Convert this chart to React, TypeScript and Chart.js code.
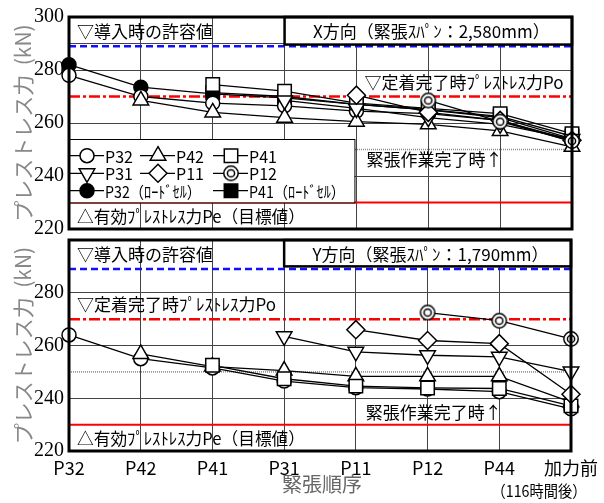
import React, { useEffect, useRef } from 'react';
import { Chart, registerables } from 'chart.js';
import { drawPoint } from 'chart.js/helpers';

Chart.register(...registerables);

// ---------- data ----------
const categories = ['P32', 'P42', 'P41', 'P31', 'P11', 'P12', 'P44', '加力前'];
const lastCategoryNote = '（116時間後）';
const seriesNames = ['P32', 'P42', 'P41', 'P31', 'P11', 'P12', 'P32（ﾛｰﾄﾞｾﾙ）', 'P41（ﾛｰﾄﾞｾﾙ）'];

// X direction (top panel)
const xP32 = [278, 270, 267.5, 266.5, 264.5, 263.5, 261, 253];
const xP42 = [null, 268.5, 264, 262, 260.5, 259.5, 257, 251];
const xP41 = [null, null, 274.5, 272, 267.5, 265.5, 263.5, 256];
const xP31 = [null, null, null, 268.5, 265.5, 262, 259.5, 254];
const xP11 = [null, null, null, null, 270.5, 264, 261, 253.5];
const xP12 = [null, null, null, null, null, 268.5, 260.5, 253.2];
const xP32LC = [282, 273.5, 271, 269.5, 267, 265, 262, 254];
const xP41LC = [null, null, 271.5, 270, 267, 265, 262.5, 255];

// Y direction (bottom panel)
const yP32 = [264, 255, 251.5, 246.5, 244, 243.5, 242.5, 236];
const yP42 = [null, 256.8, 252, 250.5, 248.3, 248.3, 248.3, 238.5];
const yP41 = [null, null, 252.5, 247.4, 244.6, 243.9, 243.7, 237.1];
const yP31 = [null, null, null, 263.5, 257.6, 256.3, 255.7, 250.1];
const yP11 = [null, null, null, null, 266, 261.9, 260.7, 241.5];
const yP12 = [null, null, null, null, null, 272.5, 269.4, 262.5];

// reference lines (kN)
const allowableAtIntroduction = 289;
const prestressPo = 270;
const completionLine = 250;
const prestressPe = 230;

const yMin = 220;
const yMax = 300;
const yTickLabelsTop = [220, 240, 260, 280, 300];
const yTickLabelsBottom = [220, 240, 260, 280];

const textIntro = '▽導入時の許容値';
const textPo = '▽定着完了時ﾌﾟﾚｽﾄﾚｽ力Po';
const textDone = '緊張作業完了時↑';
const textPe = '△有効ﾌﾟﾚｽﾄﾚｽ力Pe（目標値）';
const titleTop = 'X方向（緊張ｽﾊﾟﾝ：2,580mm）';
const titleBottom = 'Y方向（緊張ｽﾊﾟﾝ：1,790mm）';
const yAxisTitle = 'プレストレス力  (kN)';
const xAxisTitle = '緊張順序';

// ---------- styles ----------
const JP = '"Noto Sans CJK JP", "Noto Sans", sans-serif';

function makeDoubleCircle(): HTMLCanvasElement {
  const c = document.createElement('canvas');
  c.width = 18;
  c.height = 18;
  const g = c.getContext('2d')!;
  g.lineWidth = 1.5;
  g.strokeStyle = '#000';
  g.fillStyle = '#fff';
  g.beginPath();
  g.arc(9, 9, 7.2, 0, Math.PI * 2);
  g.fill();
  g.stroke();
  g.beginPath();
  g.arc(9, 9, 3.6, 0, Math.PI * 2);
  g.stroke();
  return c;
}

type Marker = { style: any; rot: number; r: number; fill: string; order: number };

function markerList(dbl: HTMLCanvasElement): Marker[] {
  return [
    { style: 'circle', rot: 0, r: 7, fill: '#fff', order: 5 },
    { style: 'triangle', rot: 0, r: 9, fill: '#fff', order: 4 },
    { style: 'rect', rot: 0, r: 9.5, fill: '#fff', order: 3 },
    { style: 'triangle', rot: 180, r: 9, fill: '#fff', order: 2 },
    { style: 'rectRot', rot: 0, r: 9, fill: '#fff', order: 1 },
    { style: dbl, rot: 0, r: 7, fill: '#fff', order: 0 },
    { style: 'circle', rot: 0, r: 7, fill: '#000', order: 7 },
    { style: 'rect', rot: 0, r: 9.5, fill: '#000', order: 6 },
  ];
}

type Panel = {
  series: (number | null)[][];
  title: string;
  tickLabels: number[];
  isBottom: boolean;
};

function makePlugin(panel: Panel, markers: Marker[]) {
  const text = (
    ctx: CanvasRenderingContext2D,
    s: string,
    x: number,
    y: number,
    align: CanvasTextAlign = 'left',
    size = 17,
    color = '#000',
    maxW?: number,
  ) => {
    ctx.font = `${size}px ${JP}`;
    ctx.fillStyle = color;
    ctx.textAlign = align;
    ctx.textBaseline = 'middle';
    if (maxW) ctx.fillText(s, x, y, maxW);
    else ctx.fillText(s, x, y);
  };
  return {
    id: 'panelDeco',
    beforeDatasetsDraw(chart: any) {
      const { ctx, chartArea: ca, scales } = chart;
      const y = scales.y;
      const lines = [
        { v: allowableAtIntroduction, color: '#1010ff', w: 2.5, dash: [7, 4] },
        { v: prestressPo, color: '#ff0000', w: 2.5, dash: [11, 3, 3, 3] },
        { v: completionLine, color: '#8a8a8a', w: 1.5, dash: [1, 1] },
        { v: prestressPe, color: '#ff0000', w: 2, dash: [] as number[] },
      ];
      ctx.save();
      for (const l of lines) {
        const py = y.getPixelForValue(l.v);
        ctx.beginPath();
        ctx.setLineDash(l.dash);
        ctx.strokeStyle = l.color;
        ctx.lineWidth = l.w;
        ctx.moveTo(ca.left, py);
        ctx.lineTo(ca.right, py);
        ctx.stroke();
      }
      ctx.restore();
    },
    afterDatasetsDraw(chart: any) {
      const { ctx, chartArea: ca, scales } = chart;
      const x = scales.x;
      const y = scales.y;
      ctx.save();
      // title box
      const bx = x.getPixelForValue(3);
      const by2 = y.getPixelForValue(panel.isBottom ? 290 : 289.6);
      ctx.fillStyle = '#fff';
      ctx.fillRect(bx, ca.top, ca.right - bx, by2 - ca.top);
      ctx.strokeStyle = '#000';
      ctx.lineWidth = 2.5;
      ctx.strokeRect(bx, ca.top, ca.right - bx, by2 - ca.top);
      text(ctx, panel.title, (bx + ca.right) / 2 + 3, (ca.top + by2) / 2 + 1, 'center', 17, '#000', 252);

      // annotation texts
      text(ctx, textIntro, ca.left + 8, y.getPixelForValue(294.4), 'left', 17, '#000', 141);
      if (panel.isBottom) {
        text(ctx, textPo, ca.left + 8, y.getPixelForValue(275.6), 'left', 17, '#000', 203);
        text(ctx, textDone, x.getPixelForValue(4) + 10, y.getPixelForValue(234.6), 'left', 17, '#000', 136);
      } else {
        text(ctx, textPo, x.getPixelForValue(4) + 8, y.getPixelForValue(275.3), 'left', 17, '#000', 203);
        text(ctx, textDone, x.getPixelForValue(4) + 10, y.getPixelForValue(246.3), 'left', 17, '#000', 136);
      }
      text(ctx, textPe, ca.left + 8, y.getPixelForValue(224.6), 'left', 17, '#000', 228);

      // legend (top panel only)
      if (!panel.isBottom) {
        const lx = ca.left;
        const ly = ca.top + 122;
        const lw = x.getPixelForValue(4) - 2 - lx;
        const lh = y.getPixelForValue(prestressPe) - ly;
        ctx.fillStyle = '#fff';
        ctx.fillRect(lx, ly, lw, lh);
        ctx.strokeStyle = '#000';
        ctx.lineWidth = 1;
        ctx.strokeRect(lx + 0.5, ly + 0.5, lw, lh);
        const colX = [0, 71, 144];
        const rowY = [16.7, 34.3, 51.7];
        const place = [[0, 0], [1, 0], [2, 0], [0, 1], [1, 1], [2, 1], [0, 2], [2, 2]];
        place.forEach(([c, r], i) => {
          const x0 = lx + colX[c];
          const yy = ly + rowY[r];
          ctx.strokeStyle = '#000';
          ctx.lineWidth = 1.3;
          ctx.setLineDash([]);
          ctx.beginPath();
          ctx.moveTo(x0, yy);
          ctx.lineTo(x0 + 35, yy);
          ctx.stroke();
          const m = markers[i];
          ctx.fillStyle = m.fill;
          ctx.strokeStyle = '#000';
          ctx.lineWidth = 1.5;
          drawPoint(ctx, { pointStyle: m.style, rotation: m.rot, radius: m.r, borderWidth: 1.5 } as any, x0 + 18, yy);
          text(ctx, seriesNames[i], x0 + 36, yy + 1, 'left', 16, '#000', i >= 6 ? 96 : undefined);
        });
      }

      // bottom texts
      if (panel.isBottom) {
        text(ctx, lastCategoryNote, x.getPixelForValue(7) - 32, ca.bottom + 40, 'center', 16, '#000', 95);
        text(ctx, xAxisTitle, (ca.left + ca.right) / 2 + 2, ca.bottom + 33, 'center', 20, '#666');
      }

      // frame
      ctx.strokeStyle = '#000';
      ctx.lineWidth = 3;
      ctx.setLineDash([]);
      ctx.strokeRect(ca.left, ca.top, ca.right - ca.left, ca.bottom - ca.top);
      ctx.restore();
    },
  };
}

function PanelChart({ panel, width, height, top }: { panel: Panel; width: number; height: number; top: number }) {
  const ref = useRef<HTMLCanvasElement | null>(null);
  useEffect(() => {
    if (!ref.current) return;
    const dbl = makeDoubleCircle();
    const markers = markerList(dbl);
    const datasets = panel.series
      .map((data, i) => ({ data, i }))
      .filter((d) => d.data.length > 0)
      .map(({ data, i }) => {
        const m = markers[i];
        return {
          label: seriesNames[i],
          data,
          borderColor: '#000',
          borderWidth: 1.3,
          backgroundColor: m.fill,
          pointStyle: m.style,
          pointRotation: m.rot,
          pointRadius: m.r,
          pointBackgroundColor: m.fill,
          pointBorderColor: '#000',
          pointBorderWidth: 1.5,
          order: m.order,
          tension: 0,
          fill: false,
        };
      });
    const chart = new Chart(ref.current, {
      type: 'line',
      data: { labels: categories, datasets },
      plugins: [makePlugin(panel, markers)],
      options: {
        responsive: false,
        animation: false,
        events: [],
        layout: { padding: { left: 0, right: 32, top: 13, bottom: panel.isBottom ? 0 : 19 } },
        plugins: { legend: { display: false }, tooltip: { enabled: false } },
        scales: {
          x: {
            type: 'category',
            offset: false,
            grid: { display: true, drawTicks: false, color: '#444', lineWidth: 1 },
            border: { display: false },
            ticks: {
              display: panel.isBottom,
              padding: 6,
              color: '#000',
              font: { family: JP, size: 18 },
              maxRotation: 0,
              autoSkip: false,
            },
            afterFit: (s: any) => {
              s.height = panel.isBottom ? 52 : 0;
            },
          },
          y: {
            min: yMin,
            max: yMax,
            grid: {
              drawTicks: false,
              color: (c: any) =>
                c.tick && (c.tick.value === completionLine || c.tick.value === prestressPe || c.tick.value === prestressPo)
                  ? 'rgba(0,0,0,0)'
                  : '#444',
              lineWidth: 1,
            },
            border: { display: false },
            ticks: {
              stepSize: 10,
              padding: 5,
              color: '#000',
              font: { family: '"Liberation Serif", "DejaVu Serif", serif', size: 20 },
              callback: (v: any) => (panel.tickLabels.includes(Number(v)) ? String(v) : ''),
            },
            title: {
              display: true,
              text: yAxisTitle,
              color: '#888',
              font: { family: JP, size: 21 },
              padding: { top: 10, bottom: 0 },
            },
            afterFit: (s: any) => {
              s.width = 69;
            },
          },
        },
      } as any,
    });
    return () => chart.destroy();
  }, [panel]);
  return (
    <canvas
      ref={ref}
      width={width}
      height={height}
      style={{ position: 'absolute', left: 0, top, width, height, display: 'block' }}
    />
  );
}

const topPanel: Panel = {
  series: [xP32, xP42, xP41, xP31, xP11, xP12, xP32LC, xP41LC],
  title: titleTop,
  tickLabels: yTickLabelsTop,
  isBottom: false,
};
const bottomPanel: Panel = {
  series: [yP32, yP42, yP41, yP31, yP11, yP12, [], []],
  title: titleBottom,
  tickLabels: yTickLabelsBottom,
  isBottom: true,
};

export default function App() {
  return (
    <div style={{ position: 'fixed', left: 0, top: 0, width: 604, height: 503, background: '#fff', overflow: 'hidden' }}>
      <PanelChart panel={topPanel} width={604} height={248} top={0} />
      <PanelChart panel={bottomPanel} width={604} height={280} top={223} />
    </div>
  );
}
